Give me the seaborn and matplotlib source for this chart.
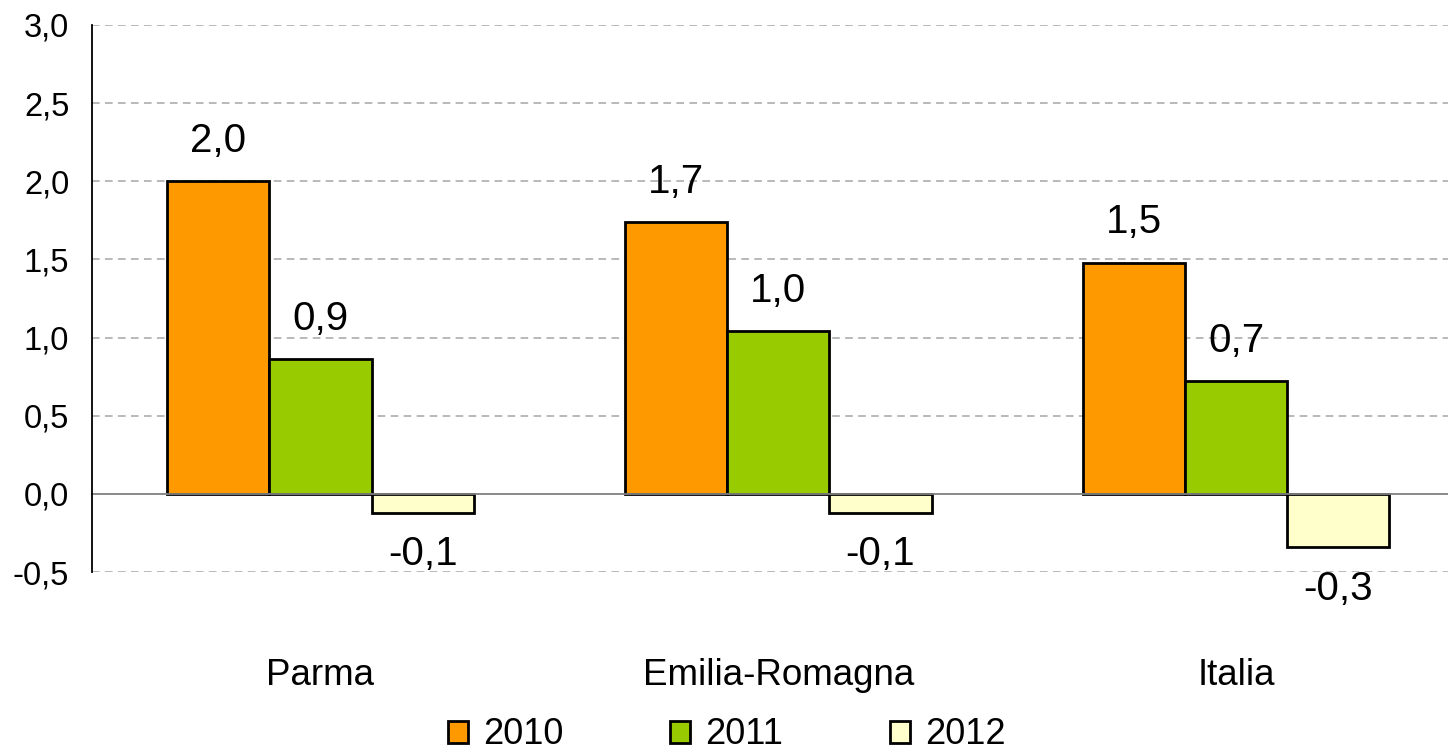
import matplotlib

matplotlib.use("Agg")
import matplotlib.pyplot as plt
import pandas as pd
import seaborn as sns
from matplotlib.ticker import FixedLocator, FuncFormatter

AREAS = ["Parma", "Emilia-Romagna", "Italia"]
YEARS = ["2010", "2011", "2012"]
V2010 = [2.00, 1.74, 1.48]
V2011 = [0.86, 1.04, 0.72]
V2012 = [-0.12, -0.12, -0.34]
COLORS = ["#FF9900", "#99CC00", "#FFFFCC"]


def comma(v, _pos=None):
    return f"{v:.1f}".replace(".", ",")


def main() -> None:
    rows = []
    for year, vals in zip(YEARS, [V2010, V2011, V2012]):
        for area, v in zip(AREAS, vals):
            rows.append({"area": area, "year": year, "value": v})
    df = pd.DataFrame(rows)

    sns.set_style("white")
    plt.rcParams["font.family"] = ["Liberation Sans", "DejaVu Sans"]
    plt.rcParams["text.color"] = "black"
    plt.rcParams["xtick.labelcolor"] = "black"
    plt.rcParams["ytick.labelcolor"] = "black"

    fig, ax = plt.subplots(figsize=(14.48, 7.5), dpi=100)
    # axes runs a little past the right edge, like the source chart
    fig.subplots_adjust(left=0.0632, right=1.0117, top=0.9667, bottom=0.2373)

    sns.barplot(
        data=df, x="area", y="value", hue="year", order=AREAS, hue_order=YEARS,
        palette=COLORS, width=0.67, gap=0, edgecolor="black", linewidth=2.0,
        saturation=1, ax=ax,
    )

    ax.set_ylim(-0.5, 3.0)
    ax.set_xlim(-0.5, 2.5)
    ax.set_yticks([-0.5, 0.0, 0.5, 1.0, 1.5, 2.0, 2.5, 3.0])
    ax.yaxis.set_major_formatter(FuncFormatter(comma))
    for y in [-0.5, 0.5, 1.0, 1.5, 2.0, 2.5, 3.0]:
        ax.axhline(y, color="#A6A6A6", lw=1.1, ls=(0, (5, 3.5)), zorder=0)

    ax.spines["top"].set_visible(False)
    ax.spines["right"].set_visible(False)
    ax.spines["left"].set_color("black")
    ax.spines["left"].set_linewidth(1.3)
    ax.spines["bottom"].set_position(("data", 0))
    ax.spines["bottom"].set_color("#808080")
    ax.spines["bottom"].set_linewidth(1.3)
    ax.spines["bottom"].set_zorder(1)

    ax.tick_params(axis="y", direction="out", length=6, width=1.3, color="black",
                   labelsize=23.5, pad=10)
    ax.xaxis.set_minor_locator(FixedLocator([0.5, 1.5]))
    ax.tick_params(axis="x", which="minor", direction="out", length=7, width=1.0, color="#808080")
    ax.tick_params(axis="x", which="major", length=0, labelsize=26.5, pad=118)
    ax.set_xlabel("")
    ax.set_ylabel("")

    for container in ax.containers:
        for patch in container.patches:
            h = patch.get_height()
            xc = patch.get_x() + patch.get_width() / 2
            off = 29 if h >= 0 else -30
            ax.annotate(comma(h), (xc, h), xytext=(0, off), textcoords="offset points",
                        ha="center", va="center", fontsize=29, color="black")

    handles, labels = ax.get_legend_handles_labels()
    ax.get_legend().remove()
    fig.legend(handles, labels, loc="center", bbox_to_anchor=(0.502, 0.02), ncol=3,
               frameon=False, fontsize=26, handlelength=0.55, handleheight=0.55,
               handletextpad=0.42, columnspacing=2.95, borderpad=0)

    fig.savefig("out.png", dpi=100)
    plt.close(fig)


if __name__ == "__main__":
    main()
